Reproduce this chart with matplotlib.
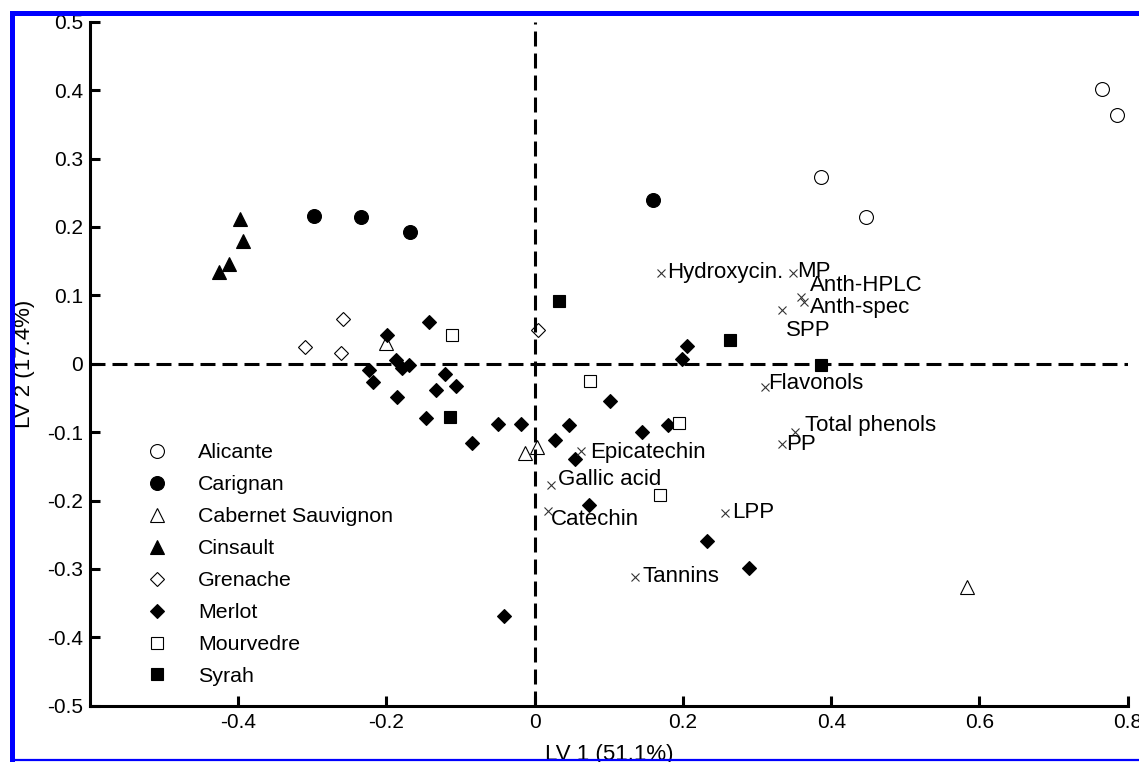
import matplotlib
matplotlib.use("Agg")
import matplotlib.pyplot as plt
from matplotlib.lines import Line2D
from matplotlib.ticker import FixedLocator, FuncFormatter

plt.rcParams["font.family"] = ["Liberation Sans", "DejaVu Sans"]
plt.rcParams["axes.unicode_minus"] = False

# scores per cultivar (LV1, LV2)
alicante_x = [0.765, 0.785, 0.386, 0.447]
alicante_y = [0.401, 0.363, 0.273, 0.214]
carignan_x = [-0.298, -0.234, -0.168, 0.160]
carignan_y = [0.216, 0.214, 0.192, 0.239]
cabernet_x = [-0.200, -0.0135, 0.003, 0.583]
cabernet_y = [0.030, -0.130, -0.122, -0.326]
cinsault_x = [-0.398, -0.394, -0.426, -0.413]
cinsault_y = [0.212, 0.180, 0.134, 0.146]
grenache_x = [-0.310, -0.259, -0.262, 0.0045]
grenache_y = [0.024, 0.066, 0.015, 0.049]
merlot_x = [-0.1425, -0.1996, -0.187, -0.179, -0.170, -0.223, -0.218, -0.121,
            -0.133, -0.106, -0.186, -0.147, -0.050, -0.019, -0.085, 0.206,
            0.199, 0.101, 0.046, 0.028, 0.145, 0.180, 0.055, 0.073, -0.041,
            0.232, 0.289]
merlot_y = [0.061, 0.042, 0.005, -0.007, -0.002, -0.0095, -0.027, -0.015,
            -0.038, -0.033, -0.049, -0.080, -0.088, -0.088, -0.116, 0.026,
            0.0075, -0.055, -0.090, -0.112, -0.100, -0.090, -0.140, -0.207,
            -0.369, -0.259, -0.299]
mourvedre_x = [-0.112, 0.074, 0.195, 0.169]
mourvedre_y = [0.042, -0.025, -0.087, -0.192]
syrah_x = [0.033, 0.264, -0.114, 0.386]
syrah_y = [0.092, 0.034, -0.078, -0.002]

# loadings
load_names = ["Hydroxycin.", "MP", "Anth-HPLC", "Anth-spec", "SPP", "Flavonols",
              "Total phenols", "PP", "Epicatechin", "Gallic acid", "Catechin",
              "LPP", "Tannins"]
load_x = [0.170, 0.348, 0.359, 0.363, 0.334, 0.311, 0.351, 0.334, 0.062,
          0.0225, 0.018, 0.257, 0.135]
load_y = [0.133, 0.133, 0.098, 0.090, 0.079, -0.034, -0.100, -0.118, -0.128,
          -0.178, -0.215, -0.218, -0.312]

xticks = [-0.4, -0.2, 0, 0.2, 0.4, 0.6, 0.8]
yticks = [-0.5, -0.4, -0.3, -0.2, -0.1, 0, 0.1, 0.2, 0.3, 0.4, 0.5]

# label offsets in pixels (dx right, dy down)
label_off = [(6, 0), (4, -1), (9, -11), (6, 5), (4, 21), (3, -3),
             (10, -7), (4, 0), (9, 1), (7, -6), (3, 9), (7, 0), (8, -1)]

fig = plt.figure(figsize=(11.39, 7.62), dpi=100)
ax = fig.add_axes([90 / 1139, 1 - 705.7 / 762, 1037.7 / 1139, 684 / 762])

groups = [
    ("Alicante", alicante_x, alicante_y, "o", "white", 10),
    ("Carignan", carignan_x, carignan_y, "o", "black", 10),
    ("Cabernet Sauvignon", cabernet_x, cabernet_y, "^", "white", 10.5),
    ("Cinsault", cinsault_x, cinsault_y, "^", "black", 10.5),
    ("Grenache", grenache_x, grenache_y, "D", "white", 7.3),
    ("Merlot", merlot_x, merlot_y, "D", "black", 7.3),
    ("Mourvedre", mourvedre_x, mourvedre_y, "s", "white", 9.3),
    ("Syrah", syrah_x, syrah_y, "s", "black", 9.3),
]
for name, xs, ys, mk, fc, ms in groups:
    ax.plot(xs, ys, linestyle="none", marker=mk, markersize=ms,
            markerfacecolor=fc, markeredgecolor="black", markeredgewidth=0.8,
            label=name, zorder=3)

ax.axhline(0, color="black", lw=2.2, dashes=(4.9, 2.3), zorder=4)
ax.axvline(0, color="black", lw=2.2, dashes=(4.9, 2.3), zorder=4)

ax.plot(load_x, load_y, linestyle="none", marker="x", markersize=5.5,
        color="#333333", markeredgewidth=0.8, zorder=3)
for name, lx, ly, (dx, dy) in zip(load_names, load_x, load_y, label_off):
    ax.annotate(name, (lx, ly), xytext=(dx * 0.72, -dy * 0.72),
                textcoords="offset points", ha="left", va="center",
                fontsize=16, color="black", zorder=5)

ax.set_xlim(-0.6, 0.8)
ax.set_ylim(-0.5, 0.5)
ax.xaxis.set_major_locator(FixedLocator(xticks))
ax.yaxis.set_major_locator(FixedLocator(yticks))
fmt = FuncFormatter(lambda v, p: "0" if abs(v) < 1e-9 else f"{round(v, 2):g}")
ax.xaxis.set_major_formatter(fmt)
ax.yaxis.set_major_formatter(fmt)
ax.tick_params(direction="in", length=7, width=2.2, labelsize=15, pad=5)

for side in ["top", "right"]:
    ax.spines[side].set_visible(False)
for side in ["left", "bottom"]:
    ax.spines[side].set_linewidth(2.2)

ax.set_xlabel("LV 1 (51.1%)", fontsize=16)
ax.set_ylabel("LV 2 (17.4%)", fontsize=16)
ax.xaxis.set_label_coords(0.5, -0.056)
ax.yaxis.set_label_coords(-0.053, 0.5)

ax.legend(loc="upper left", bbox_to_anchor=(0.0439, 0.3835), frameon=False,
          fontsize=15.4, numpoints=1, handlelength=2.0, handletextpad=0.92,
          labelspacing=0.605, borderpad=0, borderaxespad=0)

# blue frame around the figure
W, H = 1139, 762
fig.add_artist(Line2D([12 / W, 1.0], [1 - 12.5 / H, 1 - 12.5 / H],
                      color="#0000ff", lw=3.6, transform=fig.transFigure))
fig.add_artist(Line2D([12 / W, 12 / W], [1 - 12.5 / H, 1 - 759.5 / H],
                      color="#0000ff", lw=3.6, transform=fig.transFigure))
fig.add_artist(Line2D([12 / W, 1.0], [1 - 759.5 / H, 1 - 759.5 / H],
                      color="#0000ff", lw=1.6, transform=fig.transFigure))

fig.savefig("out.png", dpi=100)
